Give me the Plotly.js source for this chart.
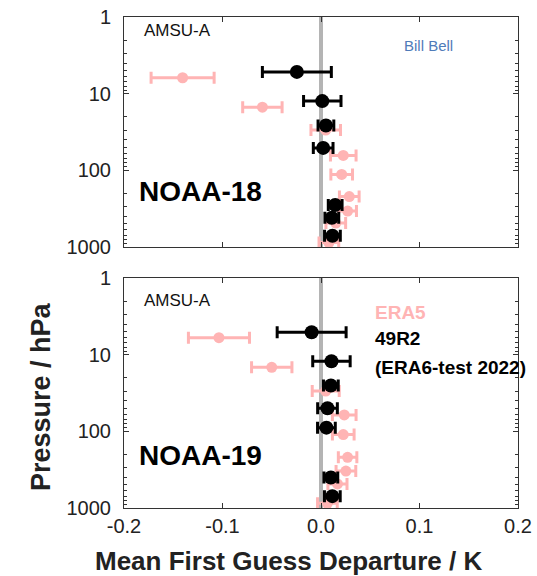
<!DOCTYPE html>
<html>
<head>
<meta charset="utf-8">
<script src="https://cdn.plot.ly/plotly-3.0.1.min.js"></script>
<style>html,body{margin:0;padding:0;background:#fff;}#chart{width:537px;height:576px;}</style>
</head>
<body>
<div id="chart"></div>
<script>
// ---- Data ----
// NOAA-18 (top panel)
const n18_era5_p    = [6.2, 15.0, 29.8, 64, 113, 220, 340, 488, 875];
const n18_era5_dep  = [-0.1405, -0.0595, 0.0048, 0.0226, 0.021, 0.0287, 0.027, 0.015, 0.008];
const n18_era5_err  = [0.032, 0.020, 0.015, 0.013, 0.011, 0.010, 0.009, 0.010, 0.010];
const n18_49r2_p    = [5.2, 12.5, 26, 51, 283, 415, 715];
const n18_49r2_dep  = [-0.0245, 0.0013, 0.005, 0.0022, 0.0144, 0.011, 0.0116];
const n18_49r2_err  = [0.035, 0.019, 0.008, 0.010, 0.007, 0.007, 0.008];
// NOAA-19 (bottom panel)
const n19_era5_p    = [6.0, 14.6, 29.8, 61, 110, 218, 330, 485, 868];
const n19_era5_dep  = [-0.1036, -0.050, 0.0048, 0.0236, 0.0226, 0.027, 0.0253, 0.0167, 0.0065];
const n19_era5_err  = [0.031, 0.0205, 0.0137, 0.012, 0.011, 0.0094, 0.010, 0.0097, 0.010];
const n19_49r2_p    = [5.1, 12.2, 25.2, 50, 89.5, 400, 700];
const n19_49r2_dep  = [-0.0095, 0.0106, 0.010, 0.0066, 0.0055, 0.010, 0.0115];
const n19_49r2_err  = [0.035, 0.019, 0.0075, 0.010, 0.009, 0.007, 0.008];
// Axis ticks
const xTicks = [-0.2, -0.1, 0.0, 0.1, 0.2];
const xTickText = ['-0.2', '-0.1', '0.0', '0.1', '0.2'];
const yTicks = [1, 10, 100, 1000];
const yTickText = ['1', '10', '100', '1000'];

const PINK = '#ffb4b4';
const BLACK = '#000000';

function series(xs, ys, errs, color, size, xa, ya, name) {
  return {
    type: 'scatter', mode: 'markers', name: name,
    x: xs, y: ys, xaxis: xa, yaxis: ya,
    marker: {color: color, size: size},
    error_x: {type: 'data', array: errs, visible: true, color: color, thickness: 3, width: 6},
    showlegend: false, cliponaxis: false
  };
}

const data = [
  series(n18_era5_dep, n18_era5_p, n18_era5_err, PINK, 11, 'x2', 'y2', 'ERA5'),
  series(n18_49r2_dep, n18_49r2_p, n18_49r2_err, BLACK, 14, 'x2', 'y2', '49R2'),
  series(n19_era5_dep, n19_era5_p, n19_era5_err, PINK, 11, 'x', 'y', 'ERA5'),
  series(n19_49r2_dep, n19_49r2_p, n19_49r2_err, BLACK, 14, 'x', 'y', '49R2')
];

const minorVals = [];
[1, 10, 100].forEach(d => { for (let k = 2; k <= 9; k++) minorVals.push(k * d); });

const FONT = 'Liberation Sans, Arial, sans-serif';
const tickFont = {family: FONT, size: 20, color: '#222'};

function xaxisDef(showLabels, anchor) {
  return {
    range: [-0.2, 0.2], anchor: anchor,
    tickvals: xTicks, ticktext: xTickText, showticklabels: showLabels,
    ticks: 'inside', ticklen: 5, tickcolor: '#333', tickwidth: 1,
    showline: true, linecolor: '#333', linewidth: 1, mirror: 'ticks',
    showgrid: false, zeroline: false, tickfont: tickFont
  };
}
function yaxisDef(domain, anchor) {
  return {
    type: 'log', range: [3, 0], domain: domain, anchor: anchor,
    tickvals: yTicks, ticktext: yTickText,
    ticks: 'inside', ticklen: 5, tickcolor: '#333', tickwidth: 1,
    ticklabelstandoff: 8,
    minor: {tickvals: minorVals, ticks: 'inside', ticklen: 3, tickcolor: '#333', showgrid: false},
    showline: true, linecolor: '#333', linewidth: 1, mirror: 'ticks',
    showgrid: false, zeroline: false, tickfont: tickFont
  };
}

const layout = {
  width: 537, height: 576,
  margin: {l: 124, r: 19, t: 17, b: 68},
  paper_bgcolor: '#fff', plot_bgcolor: '#fff',
  showlegend: false,
  xaxis: xaxisDef(true, 'y'),
  yaxis: yaxisDef([0, 0.4684], 'x'),
  xaxis2: xaxisDef(false, 'y2'),
  yaxis2: yaxisDef([0.5316, 1], 'x2'),
  shapes: [
    {type: 'line', xref: 'x2', yref: 'y2 domain', x0: 0, x1: 0, y0: 0, y1: 1, line: {color: '#b4b4b4', width: 4}, layer: 'below'},
    {type: 'line', xref: 'x', yref: 'y domain', x0: 0, x1: 0, y0: 0, y1: 1, line: {color: '#b4b4b4', width: 4}, layer: 'below'}
  ],
  annotations: [
    // axis titles
    {xref: 'paper', yref: 'paper', x: (288 - 124) / 394, y: (508 - 561) / 491, xanchor: 'center', yanchor: 'middle', showarrow: false,
     text: '<b>Mean First Guess Departure / K</b>', font: {family: FONT, size: 26, color: '#222'}},
    {xref: 'paper', yref: 'paper', x: (41 - 124) / 394, y: (508 - 397) / 491, xanchor: 'center', yanchor: 'middle', showarrow: false,
     textangle: -90, text: '<b>Pressure / hPa</b>', font: {family: FONT, size: 27, color: '#222'}},
    // panel labels
    {xref: 'x2 domain', yref: 'y2 domain', x: 0.046, y: 0.943, xanchor: 'left', yanchor: 'middle', showarrow: false,
     text: 'AMSU-A', font: {family: FONT, size: 17, color: '#111'}},
    {xref: 'x2 domain', yref: 'y2 domain', x: 0.705, y: 0.878, xanchor: 'left', yanchor: 'middle', showarrow: false,
     text: 'Bill Bell', font: {family: FONT, size: 15, color: '#4f7bb9'}},
    {xref: 'x2 domain', yref: 'y2 domain', x: 0.033, y: 0.243, xanchor: 'left', yanchor: 'middle', showarrow: false,
     text: '<b>NOAA-18</b>', font: {family: FONT, size: 28, color: '#000'}},
    {xref: 'x domain', yref: 'y domain', x: 0.046, y: 0.904, xanchor: 'left', yanchor: 'middle', showarrow: false,
     text: 'AMSU-A', font: {family: FONT, size: 17, color: '#111'}},
    {xref: 'x domain', yref: 'y domain', x: 0.033, y: 0.23, xanchor: 'left', yanchor: 'middle', showarrow: false,
     text: '<b>NOAA-19</b>', font: {family: FONT, size: 28, color: '#000'}},
    // legend text
    {xref: 'x domain', yref: 'y domain', x: 0.632, y: 0.848, xanchor: 'left', yanchor: 'middle', showarrow: false,
     text: '<b>ERA5</b>', font: {family: FONT, size: 19, color: PINK}},
    {xref: 'x domain', yref: 'y domain', x: 0.632, y: 0.739, xanchor: 'left', yanchor: 'middle', showarrow: false,
     text: '<b>49R2</b>', font: {family: FONT, size: 19, color: '#000'}},
    {xref: 'x domain', yref: 'y domain', x: 0.632, y: 0.613, xanchor: 'left', yanchor: 'middle', showarrow: false,
     text: '<b>(ERA6-test 2022)</b>', font: {family: FONT, size: 19, color: '#000'}}
  ]
};

Plotly.newPlot('chart', data, layout, {staticPlot: true, displayModeBar: false});
</script>
</body>
</html>
